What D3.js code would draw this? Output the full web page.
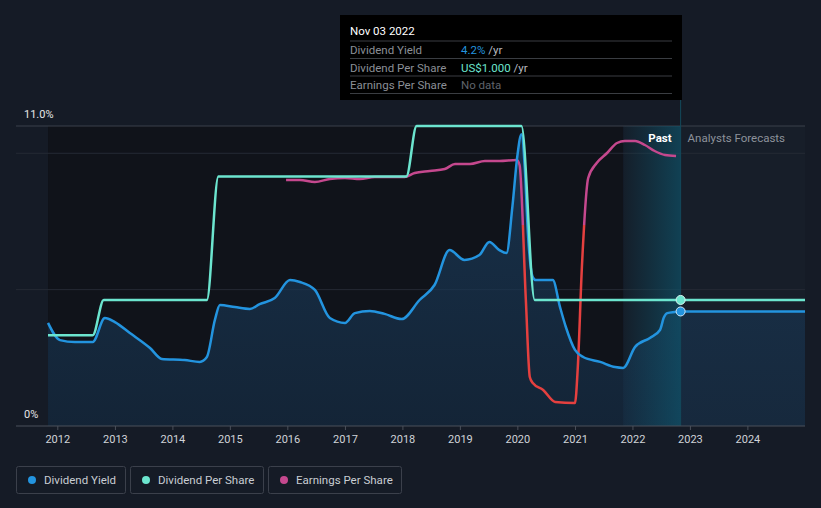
<!DOCTYPE html>
<meta charset="utf-8">
<script src="https://d3js.org/d3.v7.min.js"></script>
<style>
  body { margin: 0; background: #151b26; }
  text { font-family: Roboto, "Noto Sans", sans-serif; }
</style>
<svg id="chart" width="821" height="508"></svg>
<script>

// ---- data ----
const dividendYield = [
  ["2011-11-03", 3.78], ["2012-01-18", 3.15], ["2012-04-22", 3.08], ["2012-08-13", 3.08],
  ["2012-10-29", 3.96], ["2013-01-01", 3.81], ["2013-04-06", 3.41], ["2013-08-12", 2.86],
  ["2013-10-26", 2.46], ["2014-03-20", 2.42], ["2014-06-24", 2.35], ["2014-08-08", 2.53],
  ["2014-09-28", 3.89], ["2014-10-30", 4.44], ["2015-02-02", 4.36], ["2015-05-08", 4.29],
  ["2015-07-09", 4.47], ["2015-10-13", 4.69], ["2016-01-18", 5.35], ["2016-03-21", 5.28],
  ["2016-06-24", 4.99], ["2016-09-27", 3.96], ["2017-01-01", 3.78], ["2017-03-05", 4.14],
  ["2017-06-08", 4.22], ["2017-09-10", 4.11], ["2017-12-27", 3.92], ["2018-04-20", 4.62],
  ["2018-07-24", 5.17], ["2018-10-27", 6.45], ["2019-01-30", 6.09], ["2019-05-05", 6.27],
  ["2019-07-07", 6.75], ["2019-09-09", 6.45], ["2019-10-24", 6.34], ["2019-12-01", 8.07],
  ["2020-01-01", 9.90], ["2020-01-27", 10.70], ["2020-02-17", 9.50], ["2020-03-08", 7.07],
  ["2020-04-08", 5.46], ["2020-04-27", 5.35], ["2020-08-13", 5.35], ["2020-09-28", 4.36],
  ["2020-11-04", 3.63], ["2021-01-01", 2.79], ["2021-02-22", 2.53], ["2021-06-10", 2.35],
  ["2021-09-13", 2.16], ["2021-11-03", 2.13], ["2022-01-18", 2.90], ["2022-04-22", 3.23],
  ["2022-06-25", 3.52], ["2022-07-20", 3.99], ["2022-08-10", 4.14], ["2022-11-03", 4.20]
];
const dividendYieldForecast = [["2022-11-03", 4.20], ["2025-01-01", 4.20]];

const dividendPerShare = [
  ["2011-11-03", 0.72], ["2012-08-13", 0.72], ["2012-10-22", 1.00], ["2014-08-08", 1.00],
  ["2014-10-20", 1.98], ["2018-01-26", 1.98], ["2018-04-01", 2.38], ["2020-01-27", 2.38],
  ["2020-04-20", 1.00], ["2022-11-03", 1.00]
];
const dividendPerShareForecast = [["2022-11-03", 1.00], ["2025-01-01", 1.00]];

const earningsPerShare = [
  ["2015-12-24", 1.125], ["2016-03-21", 1.125], ["2016-06-24", 1.075], ["2016-09-27", 1.15],
  ["2017-01-01", 1.175], ["2017-04-06", 1.15], ["2017-07-09", 1.2], ["2017-10-12", 1.2],
  ["2018-01-15", 1.2], ["2018-03-20", 1.3], ["2018-06-24", 1.35], ["2018-09-27", 1.4],
  ["2018-12-01", 1.525], ["2019-03-06", 1.525], ["2019-06-09", 1.6], ["2019-09-09", 1.6],
  ["2019-12-28", 1.625], ["2020-01-15", 1.5], ["2020-02-24", -1.875], ["2020-03-20", -3.8],
  ["2020-04-08", -3.95], ["2020-06-13", -4.125], ["2020-08-28", -4.425], ["2021-01-01", -4.45],
  ["2021-01-19", -3.55], ["2021-02-14", -1.05], ["2021-03-26", 1.175], ["2021-05-19", 1.55],
  ["2021-07-24", 1.8], ["2021-09-25", 2.05], ["2021-11-14", 2.1], ["2022-01-18", 2.1],
  ["2022-03-21", 2.0], ["2022-05-22", 1.85], ["2022-07-27", 1.75], ["2022-10-05", 1.725]
];

const yearTicks = [2012, 2013, 2014, 2015, 2016, 2017, 2018, 2019, 2020, 2021, 2022, 2023, 2024];
const yieldGrid = [5, 10];
const yieldLabels = [{ v: 11, t: "11.0%" }, { v: 0, t: "0%" }];

const hoverDate = "2022-11-03";
const tooltipRows = [
  { label: "Dividend Yield", value: "4.2%", unit: " /yr", color: "#2394df" },
  { label: "Dividend Per Share", value: "US$1.000", unit: " /yr", color: "#6ce5cf" },
  { label: "Earnings Per Share", value: "No data", unit: "", color: "#5f636b" }
];
const legendItems = [
  { name: "Dividend Yield", color: "#2394df" },
  { name: "Dividend Per Share", color: "#6ce5cf" },
  { name: "Earnings Per Share", color: "#c5488e" }
];

// ---- setup ----
const svg = d3.select("#chart");
const parse = d3.timeParse("%Y-%m-%d");
const rows = arr => arr.map(d => ({ date: parse(d[0]), value: d[1] }));

const dy = rows(dividendYield), dyF = rows(dividendYieldForecast);
const dps = rows(dividendPerShare), dpsF = rows(dividendPerShareForecast);
const eps = rows(earningsPerShare);

const plotTop = 126, plotBottom = 426, axisLeft = 16, plotRight = 805;

const x = d3.scaleTime()
  .domain([parse("2012-01-01"), parse("2025-01-01")])
  .range([57.3, plotRight]);
const yYield = d3.scaleLinear().domain([0, 11]).range([plotBottom, plotTop]);
const yDps = d3.scaleLinear().domain([0, 2.38]).range([plotBottom, plotTop]);
const yEps = d3.scaleLinear().domain([0, 2.1]).range([225, 141]);

const plotLeft = x(dy[0].date);
const pastStart = x(parse("2021-11-03"));
const hoverX = x(parse(hoverDate));

const defs = svg.append("defs");
const areaGrad = defs.append("linearGradient").attr("id", "areaGrad")
  .attr("x1", 0).attr("y1", 0).attr("x2", 0).attr("y2", 1);
areaGrad.append("stop").attr("offset", "0%").attr("stop-color", "#1b3c5c").attr("stop-opacity", 0.75);
areaGrad.append("stop").attr("offset", "100%").attr("stop-color", "#16304a").attr("stop-opacity", 0.6);

const pastGrad = defs.append("linearGradient").attr("id", "pastGrad")
  .attr("x1", 0).attr("y1", 0).attr("x2", 1).attr("y2", 0);
pastGrad.append("stop").attr("offset", "0%").attr("stop-color", "#0e5a72").attr("stop-opacity", 0.05);
pastGrad.append("stop").attr("offset", "100%").attr("stop-color", "#0e5a72").attr("stop-opacity", 0.6);

defs.append("clipPath").attr("id", "posClip").append("rect")
  .attr("x", 0).attr("y", 0).attr("width", 821).attr("height", yEps(0));
defs.append("clipPath").attr("id", "negClip").append("rect")
  .attr("x", 0).attr("y", yEps(0)).attr("width", 821).attr("height", 508 - yEps(0));

// backgrounds
svg.append("rect").attr("width", 821).attr("height", 508).attr("fill", "#151b26");
svg.append("rect")
  .attr("x", plotLeft).attr("y", plotTop).attr("width", pastStart - plotLeft).attr("height", plotBottom - plotTop)
  .attr("fill", "#10131a");
svg.append("rect")
  .attr("x", hoverX).attr("y", plotTop).attr("width", plotRight - hoverX).attr("height", plotBottom - plotTop)
  .attr("fill", "#171e29");

// grid
svg.append("g").selectAll("line").data(yieldGrid).join("line")
  .attr("x1", axisLeft).attr("x2", plotRight)
  .attr("y1", d => yYield(d)).attr("y2", d => yYield(d))
  .attr("stroke", "#252a34");
svg.append("line")
  .attr("x1", axisLeft).attr("x2", plotRight).attr("y1", yYield(11)).attr("y2", yYield(11))
  .attr("stroke", "#3b404a");

// dividend yield area
const area = d3.area().x(d => x(d.date)).y0(plotBottom).y1(d => yYield(d.value)).curve(d3.curveMonotoneX);
svg.append("path").datum(dy.concat(dyF.slice(1))).attr("d", area).attr("fill", "url(#areaGrad)");

// past highlight
svg.append("rect")
  .attr("x", pastStart).attr("y", plotTop).attr("width", hoverX - pastStart).attr("height", plotBottom - plotTop)
  .attr("fill", "url(#pastGrad)");
svg.append("line")
  .attr("x1", hoverX).attr("x2", hoverX).attr("y1", 100).attr("y2", plotBottom)
  .attr("stroke", "#13485a");

svg.append("text").attr("x", hoverX - 9).attr("y", 142).attr("text-anchor", "end")
  .attr("fill", "#ffffff").attr("font-size", 11.5).attr("font-weight", "bold").text("Past");
svg.append("text").attr("x", hoverX + 7).attr("y", 142)
  .attr("fill", "#8d929b").attr("font-size", 11.5).text("Analysts Forecasts");

// lines
const lineOf = y => d3.line().x(d => x(d.date)).y(d => y(d.value)).curve(d3.curveMonotoneX);

svg.append("path").datum(eps).attr("d", lineOf(yEps)).attr("clip-path", "url(#posClip)")
  .attr("fill", "none").attr("stroke", "#c5488e").attr("stroke-width", 2.5);
svg.append("path").datum(eps).attr("d", lineOf(yEps)).attr("clip-path", "url(#negClip)")
  .attr("fill", "none").attr("stroke", "#e5403f").attr("stroke-width", 2.5);

svg.append("path").datum(dy).attr("d", lineOf(yYield))
  .attr("fill", "none").attr("stroke", "#2394df").attr("stroke-width", 2.5);
svg.append("path").datum(dyF).attr("d", lineOf(yYield))
  .attr("fill", "none").attr("stroke", "#2394df").attr("stroke-width", 2.5);

svg.append("path").datum(dps).attr("d", lineOf(yDps))
  .attr("fill", "none").attr("stroke", "#6ce5cf").attr("stroke-width", 2.5);
svg.append("path").datum(dpsF).attr("d", lineOf(yDps))
  .attr("fill", "none").attr("stroke", "#6ce5cf").attr("stroke-width", 2.5);

// x axis
svg.append("line").attr("x1", axisLeft).attr("x2", plotRight).attr("y1", plotBottom).attr("y2", plotBottom)
  .attr("stroke", "#4b505a");
const xAxis = svg.append("g").attr("transform", `translate(0,${plotBottom})`)
  .call(d3.axisBottom(x)
    .tickValues(yearTicks.map(yr => new Date(yr, 0, 1)))
    .tickFormat(d3.timeFormat("%Y"))
    .tickSize(4).tickPadding(5));
xAxis.select(".domain").remove();
xAxis.selectAll(".tick line").attr("stroke", "#4b505a");
xAxis.selectAll(".tick text").attr("fill", "#d0d3d8").attr("font-size", 11)
  .attr("font-family", "Roboto, sans-serif");

// y labels
svg.append("g").selectAll("text").data(yieldLabels).join("text")
  .attr("x", 24).attr("y", d => yYield(d.v) - 8)
  .attr("fill", "#e6e6e6").attr("font-size", 11).text(d => d.t);

// markers
svg.append("circle").attr("cx", hoverX).attr("cy", yDps(1.0)).attr("r", 4.5)
  .attr("fill", "#6ce5cf").attr("stroke", "#d8f5ef").attr("stroke-width", 1);
svg.append("circle").attr("cx", hoverX).attr("cy", yYield(4.2)).attr("r", 4.5)
  .attr("fill", "#2394df").attr("stroke", "#cfe6f8").attr("stroke-width", 1);

// tooltip
const tip = svg.append("g").attr("transform", "translate(340,15)");
tip.append("rect").attr("width", 342).attr("height", 85).attr("fill", "#000000");
tip.append("text").attr("x", 10).attr("y", 20).attr("fill", "#ffffff").attr("font-size", 11.5)
  .text(d3.timeFormat("%b %d %Y")(parse(hoverDate)));
const tipRow = tip.selectAll("g.row").data(tooltipRows).join("g")
  .attr("transform", (d, i) => `translate(0,${26 + i * 17.5})`);
tipRow.append("line").attr("x1", 10).attr("x2", 332).attr("y1", 0).attr("y2", 0)
  .attr("stroke", "#3a3d42");
tipRow.append("text").attr("x", 10).attr("y", 13).attr("fill", "#8b8f96").attr("font-size", 11.5)
  .text(d => d.label);
const val = tipRow.append("text").attr("x", 121).attr("y", 13).attr("font-size", 11.5);
val.append("tspan").attr("fill", d => d.color).text(d => d.value);
val.append("tspan").attr("fill", "#b8bbc0").text(d => d.unit);
tip.append("line").attr("x1", 10).attr("x2", 332).attr("y1", 26 + 3 * 17.5).attr("y2", 26 + 3 * 17.5)
  .attr("stroke", "#3a3d42");

// legend
const legendWidths = [110, 134, 134];
let lx = 16;
legendItems.forEach((item, i) => {
  const g = svg.append("g").attr("transform", `translate(${lx},466)`);
  g.append("rect").attr("x", 0.5).attr("y", 0.5).attr("width", legendWidths[i] - 1).attr("height", 27)
    .attr("rx", 2).attr("fill", "none").attr("stroke", "#3b404b");
  g.append("circle").attr("cx", 16).attr("cy", 14).attr("r", 4).attr("fill", item.color);
  g.append("text").attr("x", 28).attr("y", 18).attr("fill", "#c9cdd3").attr("font-size", 11.5)
    .text(item.name);
  lx += legendWidths[i] + 4;
});

</script>
